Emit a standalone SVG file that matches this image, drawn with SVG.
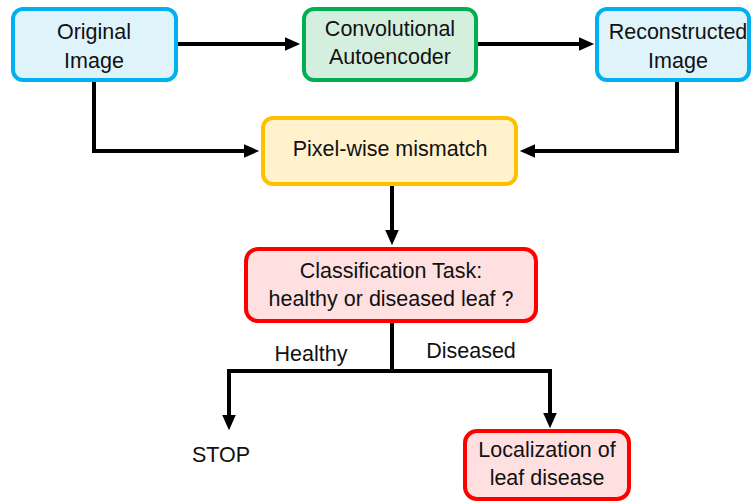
<svg xmlns="http://www.w3.org/2000/svg" width="752" height="503" viewBox="0 0 752 503">
<style>
.box{stroke-width:4}
.blue{fill:#DFF3FB;stroke:#00B0F0}
.green{fill:#D5EFDF;stroke:#00B050}
.yellow{fill:#FFF2CC;stroke:#FFC000}
.red{fill:#FFE0E0;stroke:#FF0000}
text{font-family:"Liberation Sans",Arial,sans-serif;font-size:21.5px;fill:#111;text-anchor:middle}
.conn{fill:none;stroke:#000;stroke-width:4}
</style>
<defs>
<marker id="ah" markerWidth="4" markerHeight="4" refX="2" refY="2" orient="auto" markerUnits="strokeWidth" viewBox="0 0 4 4">
<path d="M0,0.3 L3.8,2 L0,3.7 Z" fill="#000"/>
</marker>
</defs>
<g id="connectors">
<path class="conn" d="M177,44 H293" marker-end="url(#ah)"/>
<path class="conn" d="M477,44 H587" marker-end="url(#ah)"/>
<path class="conn" d="M94,80 V151 H252" marker-end="url(#ah)"/>
<path class="conn" d="M677,80 V151 H527" marker-end="url(#ah)"/>
<path class="conn" d="M392,185 V238" marker-end="url(#ah)"/>
<path class="conn" d="M392,322 V371"/>
<path class="conn" d="M229,371 H550"/>
<path class="conn" d="M229,369 V423" marker-end="url(#ah)"/>
<path class="conn" d="M550,369 V421" marker-end="url(#ah)"/>
<text x="311" y="361">Healthy</text>
<text x="471" y="358">Diseased</text>
</g>
<g id="original">
<rect class="box blue" x="13" y="9" width="163" height="71" rx="10"/>
<text x="94" y="39">Original</text>
<text x="94" y="68">Image</text>
</g>
<g id="autoencoder">
<rect class="box green" x="304" y="9" width="172" height="71" rx="10"/>
<text x="390" y="36">Convolutional</text>
<text x="390" y="64">Autoencoder</text>
</g>
<g id="reconstructed">
<rect class="box blue" x="597" y="9" width="152" height="71" rx="10"/>
<text x="678" y="39">Reconstructed</text>
<text x="678" y="68">Image</text>
</g>
<g id="mismatch">
<rect class="box yellow" x="263" y="118" width="253" height="66" rx="10"/>
<text x="390" y="156">Pixel-wise mismatch</text>
</g>
<g id="classification">
<rect class="box red" x="246" y="249" width="290" height="72" rx="12"/>
<text x="391" y="278">Classification Task:</text>
<text x="391" y="306">healthy or diseased leaf ?</text>
</g>
<g id="stop">
<text x="221" y="462">STOP</text>
</g>
<g id="localization">
<rect class="box red" x="465" y="431" width="164" height="68" rx="12"/>
<text x="547" y="457">Localization of</text>
<text x="547" y="485">leaf disease</text>
</g>
</svg>
